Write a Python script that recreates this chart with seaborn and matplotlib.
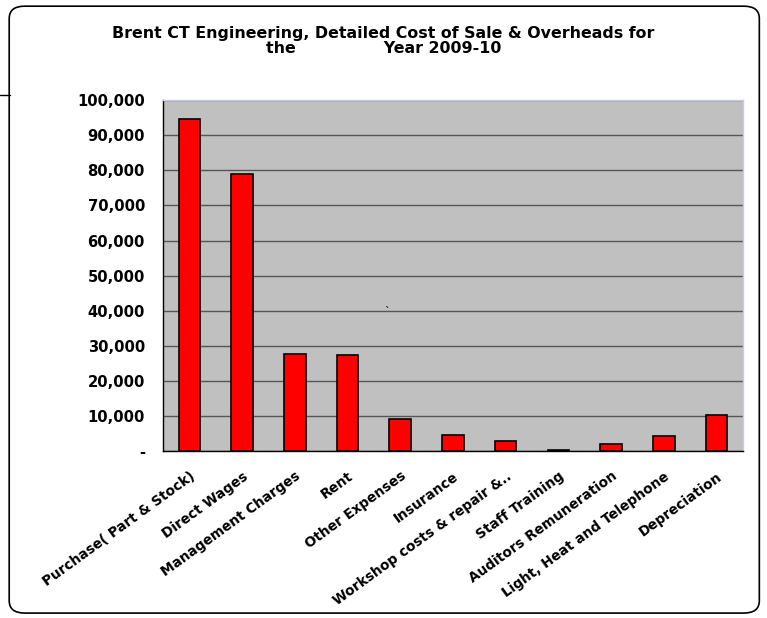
import pandas as pd
import numpy as np
import matplotlib
matplotlib.use('Agg')
import matplotlib.pyplot as plt
import seaborn as sns
from matplotlib.patches import FancyBboxPatch
from matplotlib.ticker import FuncFormatter, FixedLocator

# Data
categories = ['Purchase( Part & Stock)', 'Direct Wages', 'Management Charges', 'Rent',
              'Other Expenses', 'Insurance', 'Workshop costs & repair &..', 'Staff Training',
              'Auditors Remuneration', 'Light, Heat and Telephone', 'Depreciation']
costs = [94500, 78900, 27600, 27400, 9100, 4700, 3000, 400, 2000, 4400, 10400]
yticks = list(range(0, 100001, 10000))

df = pd.DataFrame({'item': categories, 'cost': costs})

sns.set_style('white')
plt.rcParams['font.family'] = ['DejaVu Sans']
plt.rcParams['text.color'] = 'black'
plt.rcParams['xtick.color'] = 'black'
plt.rcParams['ytick.color'] = 'black'

fig = plt.figure(figsize=(7.67, 6.18), dpi=100)
ax = fig.add_axes([0.2125, 0.270, 0.756, 0.568])

# rounded chart border
fig.patches.append(FancyBboxPatch((0.012, 0.008), 0.978, 0.982, boxstyle='round,pad=0,rounding_size=0.02',
                                  transform=fig.transFigure, fill=False, edgecolor='black', linewidth=1.2))
fig.add_artist(plt.Line2D([0.0, 0.013], [0.846, 0.846], color='black', linewidth=1, transform=fig.transFigure))

sns.barplot(data=df, x='item', y='cost', color='#ff0000', saturation=1, width=0.41,
            edgecolor='black', linewidth=1.2, ax=ax, zorder=3)

ax.set_facecolor('#c0c0c0')
ax.set_ylim(0, 100000)
ax.set_xlim(-0.5, len(categories) - 0.5)
ax.yaxis.set_major_locator(FixedLocator(yticks))
ax.yaxis.set_major_formatter(FuncFormatter(lambda v, p: '-' if v == 0 else f'{int(v):,}'))
ax.grid(axis='y', color='#555555', linewidth=1, zorder=0)
ax.set_axisbelow(True)

for s in ['top', 'right']:
    ax.spines[s].set_color('#c8c8f0')
    ax.spines[s].set_linewidth(1)
for s in ['left', 'bottom']:
    ax.spines[s].set_color('black')
    ax.spines[s].set_linewidth(1)

ax.set_xlabel('')
ax.set_ylabel('')
ax.tick_params(axis='y', direction='out', length=5, width=1, colors='black', labelsize=10.6, pad=8)
ax.tick_params(axis='x', which='major', length=0, pad=13, labelcolor='black')
ax.xaxis.set_minor_locator(FixedLocator(np.arange(-0.5, len(categories), 1)))
ax.tick_params(axis='x', which='minor', direction='out', length=5, width=1, color='black')
for lbl in ax.get_yticklabels():
    lbl.set_fontweight('bold')
ax.set_xticks(range(len(categories)))
ax.set_xticklabels(categories, rotation=36, ha='right', rotation_mode='anchor',
                   fontsize=9.8, fontweight='bold', color='black')

fig.text(0.5, 0.946, 'Brent CT Engineering, Detailed Cost of Sale & Overheads for',
         ha='center', va='center', fontsize=11.4, fontweight='bold', color='black')
fig.text(0.5, 0.922, 'the                Year 2009-10',
         ha='center', va='center', fontsize=11.4, fontweight='bold', color='black')
ax.text(0.386, 0.388, '`', transform=ax.transAxes, fontsize=8, ha='center')

fig.savefig('out.png', dpi=100)
